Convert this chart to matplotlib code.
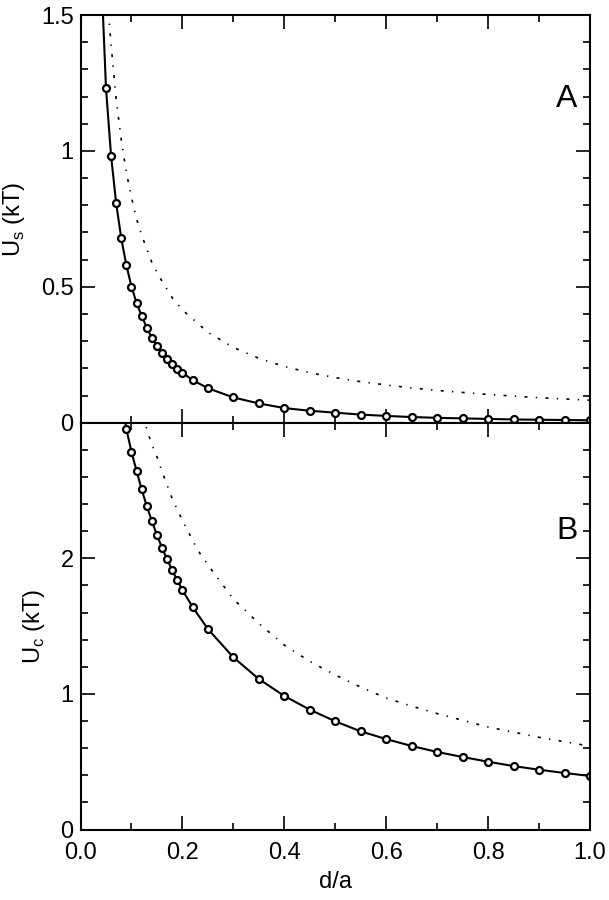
import numpy as np
import matplotlib
matplotlib.use("Agg")
import matplotlib.pyplot as plt
from matplotlib.ticker import MultipleLocator, FixedLocator, FuncFormatter

plt.rcParams["font.family"] = ["Liberation Sans", "DejaVu Sans"]

# ------------------------------------------------------------------ #
# Data
# ------------------------------------------------------------------ #
# Panel A: U_s (kT)
xa_marks = [0.05, 0.06, 0.07, 0.08, 0.09, 0.10, 0.11, 0.12, 0.13, 0.14,
            0.15, 0.16, 0.17, 0.18, 0.19, 0.20, 0.22, 0.25, 0.30, 0.35,
            0.40, 0.45, 0.50, 0.55, 0.60, 0.65, 0.70, 0.75, 0.80, 0.85,
            0.90, 0.95, 1.00]
ya_marks = [1.231, 0.982, 0.807, 0.678, 0.580, 0.501, 0.441, 0.393, 0.350,
            0.313, 0.282, 0.258, 0.234, 0.215, 0.198, 0.184, 0.157, 0.127,
            0.093, 0.071, 0.054, 0.044, 0.037, 0.030, 0.025, 0.021, 0.018,
            0.016, 0.014, 0.012, 0.011, 0.010, 0.009]
xa_lead, ya_lead = [0.043], [1.55]   # solid curve leaving the top of panel A

xa_dot = [0.055, 0.06, 0.07, 0.08, 0.09, 0.10, 0.11, 0.12, 0.14, 0.16,
          0.18, 0.20, 0.25, 0.30, 0.35, 0.40, 0.45, 0.50, 0.55, 0.60,
          0.65, 0.70, 0.80, 0.90, 1.00]
ya_dot = [1.51, 1.39, 1.19, 1.04, 0.92, 0.83, 0.75, 0.69, 0.59, 0.52,
          0.46, 0.415, 0.333, 0.277, 0.237, 0.207, 0.184, 0.166, 0.151,
          0.139, 0.128, 0.119, 0.104, 0.092, 0.083]

# Panel B: U_c (kT)
xb_marks = [0.09, 0.10, 0.11, 0.12, 0.13, 0.14, 0.15, 0.16, 0.17, 0.18,
            0.19, 0.20, 0.22, 0.25, 0.30, 0.35, 0.40, 0.45, 0.50, 0.55,
            0.60, 0.65, 0.70, 0.75, 0.80, 0.85, 0.90, 0.95, 1.00]
yb_marks = [2.953, 2.786, 2.644, 2.509, 2.386, 2.275, 2.172, 2.078, 1.993,
            1.911, 1.838, 1.766, 1.641, 1.479, 1.270, 1.110, 0.985, 0.884,
            0.798, 0.724, 0.667, 0.616, 0.572, 0.535, 0.500, 0.468, 0.441,
            0.417, 0.395]
xb_lead, yb_lead = [0.086], [3.05]

xb_dot = [0.125, 0.13, 0.14, 0.15, 0.16, 0.18, 0.20, 0.23, 0.26, 0.30,
          0.35, 0.40, 0.45, 0.50, 0.55, 0.60, 0.65, 0.70, 0.80, 0.90, 1.00]
yb_dot = [3.05, 2.95, 2.84, 2.75, 2.64, 2.44, 2.28, 2.06, 1.90, 1.70,
          1.52, 1.36, 1.24, 1.14, 1.05, 0.97, 0.91, 0.855, 0.756, 0.68,
          0.615]

X_TICKS = [0.0, 0.2, 0.4, 0.6, 0.8, 1.0]
FS = 17

# ------------------------------------------------------------------ #
# Figure
# ------------------------------------------------------------------ #
fig = plt.figure(figsize=(6.09, 9.0), dpi=100)
left, width = 0.1322, 0.8366
ax_a = fig.add_axes([left, 0.5303, width, 0.4530])
ax_b = fig.add_axes([left, 0.0783, width, 0.4520])

dot_style = dict(color="black", lw=1.2, dashes=(1.8, 5.0, 0.8, 5.0))
mark_style = dict(color="black", ls="none", marker="o", markersize=5,
                  markerfacecolor="white", markeredgewidth=1.6)


def style_axes(ax):
    for sp in ax.spines.values():
        sp.set_linewidth(1.5)
    ax.set_xlim(0, 1.0)
    ax.xaxis.set_major_locator(FixedLocator(X_TICKS))
    ax.xaxis.set_minor_locator(MultipleLocator(0.1))
    ax.tick_params(which="both", direction="in", top=True, right=True,
                   labelsize=FS, width=1.2)
    ax.tick_params(axis="y", which="major", pad=5)
    ax.tick_params(axis="x", which="major", pad=9)
    ax.tick_params(which="major", length=10)
    ax.tick_params(which="minor", length=5)


# Panel A
ax_a.plot(xa_dot, ya_dot, **dot_style)
ax_a.plot(xa_lead + xa_marks, ya_lead + ya_marks, color="black", lw=1.5)
ax_a.plot(xa_marks, ya_marks, **mark_style)
style_axes(ax_a)
ax_a.set_ylim(0, 1.5)
ax_a.yaxis.set_major_locator(FixedLocator([0, 0.5, 1.0, 1.5]))
ax_a.yaxis.set_minor_locator(MultipleLocator(0.1))
ax_a.yaxis.set_major_formatter(FuncFormatter(lambda v, p: f"{v:g}"))
ax_a.tick_params(axis="x", labelbottom=False)
ax_a.set_ylabel(r"U$_\mathregular{s}$ (kT)", fontsize=FS, labelpad=10)
ax_a.text(0.955, 1.19, "A", fontsize=23, ha="center", va="center")

# Panel B
ax_b.plot(xb_dot, yb_dot, **dot_style)
ax_b.plot(xb_lead + xb_marks, yb_lead + yb_marks, color="black", lw=1.5)
ax_b.plot(xb_marks, yb_marks, **mark_style)
style_axes(ax_b)
ax_b.set_ylim(0, 3.0)
ax_b.yaxis.set_major_locator(FixedLocator([0, 1, 2, 3]))
ax_b.yaxis.set_minor_locator(MultipleLocator(0.2))
ax_b.yaxis.set_major_formatter(FuncFormatter(lambda v, p: "" if v >= 3 else f"{v:g}"))
ax_b.xaxis.set_major_formatter(FuncFormatter(lambda v, p: f"{v:.1f}"))
ax_b.set_ylabel(r"U$_\mathregular{c}$ (kT)", fontsize=FS, labelpad=10)
ax_b.set_xlabel("d/a", fontsize=FS, labelpad=5)
ax_b.text(0.955, 2.2, "B", fontsize=23, ha="center", va="center")

fig.savefig("out.png", dpi=100)
